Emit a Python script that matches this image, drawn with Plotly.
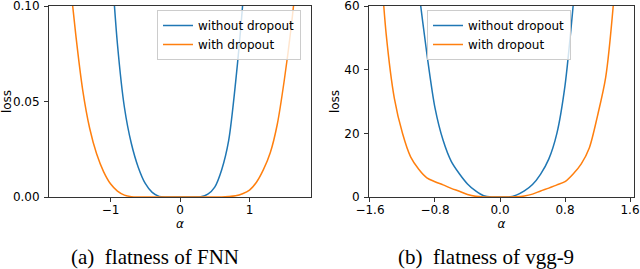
import plotly.graph_objects as go

# ---------------- data ----------------
# (a) FNN
alpha_fnn_nodrop = [-1.1, -1.0, -0.9, -0.8, -0.7, -0.6, -0.5, -0.4, -0.3, -0.2, -0.1, 0.0,
                    0.1, 0.2, 0.3, 0.4, 0.5, 0.6, 0.7, 0.8, 0.9, 1.0, 1.1]
loss_fnn_nodrop = [0.19, 0.13, 0.080, 0.047, 0.028, 0.0155, 0.0071, 0.0024, 0.0003, 0.0, 0.0, 0.0,
                   0.0, 0.0, 0.0001, 0.0015, 0.0052, 0.0143, 0.0295, 0.060, 0.100, 0.155, 0.22]

alpha_fnn_drop = [-1.8, -1.7, -1.6, -1.5, -1.4, -1.3, -1.2, -1.1, -1.0, -0.9, -0.8, -0.7, -0.6,
                  -0.5, -0.4, -0.3, -0.2, -0.1, 0.0, 0.1, 0.2, 0.3, 0.4, 0.5,
                  0.6, 0.7, 0.8, 0.9, 1.0, 1.1, 1.2, 1.3, 1.4, 1.5, 1.6, 1.7, 1.8]
loss_fnn_drop = [0.21, 0.16, 0.12, 0.085, 0.056, 0.036, 0.0226, 0.0133, 0.0069, 0.0031, 0.001, 0.0002, 0.0,
                 0.0, 0.0, 0.0, 0.0, 0.0, 0.0, 0.0, 0.0, 0.0, 0.0, 0.0,
                 0.0, 0.0002, 0.0006, 0.0017, 0.0036, 0.0077, 0.0143, 0.0233, 0.0381, 0.061, 0.089, 0.125, 0.17]

# (b) vgg-9
alpha_vgg_nodrop = [-1.2, -1.1, -1.0, -0.9, -0.8, -0.7, -0.6, -0.5, -0.4, -0.3, -0.2, -0.1, 0.0,
                    0.1, 0.2, 0.3, 0.4, 0.5, 0.6, 0.7, 0.8, 0.9, 1.0, 1.1]
loss_vgg_nodrop = [105, 85, 65, 45, 28, 17.8, 11.2, 7.3, 4.1, 1.9, 0.4, 0.0, 0.0,
                   0.0, 0.6, 1.9, 3.9, 7.2, 11.9, 20, 35, 60, 90, 125]

alpha_vgg_drop = [-1.5, -1.4, -1.3, -1.2, -1.1, -1.0, -0.9, -0.8, -0.7, -0.6, -0.5, -0.4, -0.3,
                  -0.2, -0.1, 0.0, 0.1, 0.2, 0.3, 0.4, 0.5, 0.6, 0.7, 0.8, 0.9, 1.0,
                  1.1, 1.2, 1.3, 1.4, 1.5]
loss_vgg_drop = [85, 51, 31, 20, 12.6, 8.7, 6.0, 4.8, 3.8, 2.7, 1.8, 0.8, 0.2,
                 0.0, 0.0, 0.0, 0.0, 0.05, 0.3, 0.9, 1.9, 2.8, 3.8, 4.8, 7.2, 10.4,
                 15.5, 25.5, 37.5, 62, 100]

series_names = ["without dropout", "with dropout"]

fnn_xticks = [-1, 0, 1]
fnn_xticktext = ["\u22121", "0", "1"]
fnn_yticks = [0.0, 0.05, 0.10]
fnn_yticktext = ["0.00", "0.05", "0.10"]

vgg_xticks = [-1.6, -0.8, 0.0, 0.8, 1.6]
vgg_xticktext = ["\u22121.6", "\u22120.8", "0.0", "0.8", "1.6"]
vgg_yticks = [0, 20, 40, 60]
vgg_yticktext = ["0", "20", "40", "60"]

captions = ["(a)\u00a0 flatness of FNN", "(b)\u00a0 flatness of vgg-9"]

# ---------------- style ----------------
W, H = 640, 269
BLUE = "#1f77b4"
ORANGE = "#ff7f0e"
AX = "#333333"
FONT = "DejaVu Sans"

fig = go.Figure()

line_kw = dict(shape="spline", smoothing=0.8, width=1.5)

fig.add_trace(go.Scatter(x=alpha_fnn_nodrop, y=loss_fnn_nodrop, mode="lines", name=series_names[0],
                         line=dict(color=BLUE, **line_kw), xaxis="x", yaxis="y", legend="legend"))
fig.add_trace(go.Scatter(x=alpha_fnn_drop, y=loss_fnn_drop, mode="lines", name=series_names[1],
                         line=dict(color=ORANGE, **line_kw), xaxis="x", yaxis="y", legend="legend"))
fig.add_trace(go.Scatter(x=alpha_vgg_nodrop, y=loss_vgg_nodrop, mode="lines", name=series_names[0],
                         line=dict(color=BLUE, **line_kw), xaxis="x2", yaxis="y2", legend="legend2"))
fig.add_trace(go.Scatter(x=alpha_vgg_drop, y=loss_vgg_drop, mode="lines", name=series_names[1],
                         line=dict(color=ORANGE, **line_kw), xaxis="x2", yaxis="y2", legend="legend2"))

ydom = [1 - 197 / H, 1 - 6 / H]

common_axis = dict(showline=True, linecolor=AX, linewidth=1, mirror=True, showgrid=False,
                   zeroline=False, ticks="outside", ticklen=4, tickwidth=1, tickcolor=AX,
                   automargin=False, ticklabeloverflow="allow",
                   tickfont=dict(family=FONT, size=12, color="black"))

fig.update_layout(
    width=W, height=H,
    margin=dict(l=0, r=0, t=0, b=0, autoexpand=False),
    paper_bgcolor="white", plot_bgcolor="white",
    font=dict(family=FONT, size=12, color="black"),
    xaxis=dict(domain=[49 / W, 311 / W], range=[-1.885, 1.885], anchor="y",
               tickvals=fnn_xticks, ticktext=fnn_xticktext, ticklabelstandoff=-2,
               title=dict(text="<i>α</i>", standoff=1, font=dict(family=FONT, size=12)), **common_axis),
    yaxis=dict(domain=ydom, range=[0, 0.10001], anchor="x",
               tickvals=fnn_yticks, ticktext=fnn_yticktext, ticklabelstandoff=2,
               title=dict(text="loss", standoff=2, font=dict(family=FONT, size=12)), **common_axis),
    xaxis2=dict(domain=[369 / W, 634 / W], range=[-1.612, 1.649], anchor="y2",
                tickvals=vgg_xticks, ticktext=vgg_xticktext, ticklabelstandoff=-2,
                title=dict(text="<i>α</i>", standoff=1, font=dict(family=FONT, size=12)), **common_axis),
    yaxis2=dict(domain=ydom, range=[0, 60.001], anchor="x2",
                tickvals=vgg_yticks, ticktext=vgg_yticktext, ticklabelstandoff=2,
                title=dict(text="loss", standoff=2, font=dict(family=FONT, size=12)), **common_axis),
    legend=dict(x=157 / W, y=1 - 10 / H, xanchor="left", yanchor="top",
                bgcolor="rgba(255,255,255,0.8)", bordercolor="#cccccc", borderwidth=1,
                font=dict(family=FONT, size=12), tracegroupgap=0),
    legend2=dict(x=427 / W, y=1 - 10 / H, xanchor="left", yanchor="top",
                 bgcolor="rgba(255,255,255,0.8)", bordercolor="#cccccc", borderwidth=1,
                 font=dict(family=FONT, size=12), tracegroupgap=0),
    showlegend=True,
)

for cx, txt in zip([155 / W, 486 / W], captions):
    fig.add_annotation(x=cx, y=1 - 257 / H, xref="paper", yref="paper", text=txt, showarrow=False,
                       xanchor="center", yanchor="middle",
                       font=dict(family="Liberation Serif", size=21, color="black"))

fig.write_html("out.html", config={"displayModeBar": False},
               post_script="document.body.style.margin='0';")
